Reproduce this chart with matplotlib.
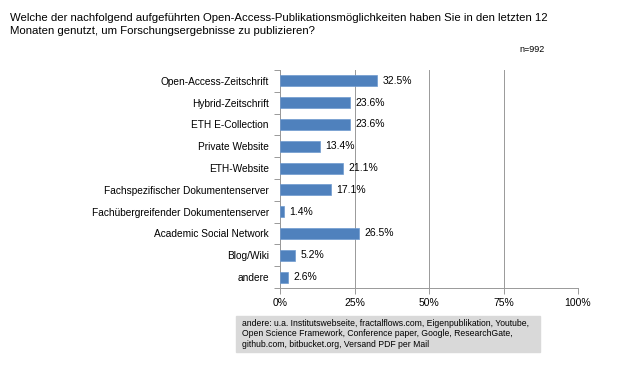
import numpy as np
import matplotlib.pyplot as plt
from matplotlib.ticker import FixedLocator

plt.rcParams['font.family'] = ['Liberation Sans', 'DejaVu Sans']

categories = ["Open-Access-Zeitschrift", "Hybrid-Zeitschrift", "ETH E-Collection",
              "Private Website", "ETH-Website", "Fachspezifischer Dokumentenserver",
              "Fachübergreifender Dokumentenserver", "Academic Social Network",
              "Blog/Wiki", "andere"]
values = [32.5, 23.6, 23.6, 13.4, 21.1, 17.1, 1.4, 26.5, 5.2, 2.6]
xticks = [0, 25, 50, 75, 100]

fig = plt.figure(figsize=(6.3, 3.65), dpi=100)
ax = fig.add_axes([280/630, 1 - 288/365, 298/630, 218/365])

y = np.arange(len(categories))
ax.barh(y, values, height=0.5, color='#4f81bd', edgecolor='#6f9ad0', linewidth=0.5, zorder=3)
for yi, v in zip(y, values):
    ax.text(v + 1.8, yi, f"{v}%", va='center', ha='left', fontsize=7.5, zorder=4)

ax.set_xlim(0, 100)
ax.set_ylim(len(categories) - 0.5, -0.5)
ax.set_yticks(y)
ax.set_yticklabels(categories, fontsize=7.3)
ax.yaxis.set_minor_locator(FixedLocator(np.arange(-0.5, len(categories), 1)))
ax.tick_params(axis='y', which='major', length=0, pad=8)
ax.tick_params(axis='y', which='minor', length=4, color='#999999', width=0.7)
ax.set_xticks(xticks)
ax.set_xticklabels([f"{t}%" for t in xticks], fontsize=7.5)
ax.tick_params(axis='x', length=4, color='#999999', width=0.7, pad=3)
ax.grid(axis='x', color='#999999', linewidth=0.7, zorder=0)
for s in ['top', 'right']:
    ax.spines[s].set_visible(False)
for s in ['left', 'bottom']:
    ax.spines[s].set_color('#999999')
    ax.spines[s].set_linewidth(0.7)

fig.text(10/630, 1 - 13/365, "Welche der nachfolgend aufgeführten Open-Access-Publikationsmöglichkeiten haben Sie in den letzten 12\n"
         "Monaten genutzt, um Forschungsergebnisse zu publizieren?",
         fontsize=8.2, va='top', ha='left', linespacing=1.35)
fig.text(545/630, 1 - 49/365, "n=992", fontsize=6.5, ha='right', va='center')

note = ("andere: u.a. Institutswebseite, fractalflows.com, Eigenpublikation, Youtube,\n"
        "Open Science Framework, Conference paper, Google, ResearchGate,\n"
        "github.com, bitbucket.org, Versand PDF per Mail")
fig.patches.append(plt.Rectangle((236/630, 1 - 352/365), 304/630, 36/365,
                                 transform=fig.transFigure, color='#d9d9d9', zorder=0))
fig.text(242/630, 1 - 334/365, note, fontsize=6.2, ha='left', va='center', linespacing=1.2)

fig.savefig('out.png', dpi=100)
